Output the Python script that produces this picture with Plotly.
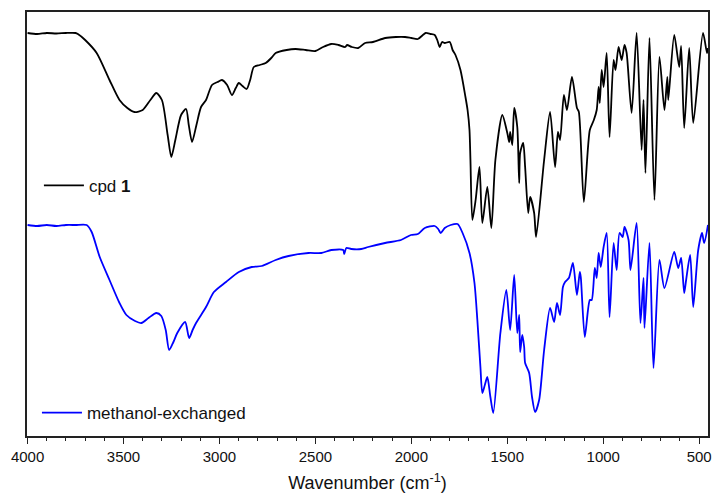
import plotly.graph_objects as go

# FT-IR spectra (transmittance, arbitrary units) vs. wavenumber in cm^-1
cpd1_wn = [4000, 3950, 3900, 3850, 3800, 3750, 3738, 3700, 3640, 3573, 3521, 3480, 3443,
           3400, 3360, 3329, 3300, 3270, 3251, 3230, 3200, 3174, 3160, 3143, 3120, 3096,
           3070, 3039, 3010, 2987, 2960, 2935, 2915, 2899, 2880, 2858, 2840, 2821, 2790,
           2759, 2730, 2707, 2650, 2604, 2550, 2500, 2460, 2417, 2380, 2345, 2335, 2310,
           2277, 2241, 2200, 2136, 2080, 2033, 2000, 1966, 1940, 1925, 1900, 1878, 1865,
           1852, 1840, 1826, 1800, 1785, 1770, 1744, 1718, 1707, 1697, 1692, 1682, 1665,
           1645, 1630, 1604, 1583, 1562, 1526, 1500, 1490, 1485, 1474, 1464, 1448, 1438,
           1433, 1417, 1407, 1391, 1381, 1360, 1350, 1308, 1277, 1251, 1236, 1225, 1205,
           1189, 1163, 1137, 1127, 1101, 1070, 1049, 1034, 1024, 1018, 1008, 998, 982,
           967, 946, 936, 920, 904, 889, 878, 852, 826, 800, 790, 780, 759, 733, 707,
           681, 666, 661, 630, 604, 594, 578, 552, 531, 480, 459, 454]
cpd1_t = [403, 402, 403, 402.5, 403, 403, 402, 396, 383, 356, 336, 328, 324,
          326, 336, 343, 336, 301, 279, 296, 321, 327, 311, 294, 311, 329,
          336, 351, 354, 356, 351, 341, 348, 353, 350, 347, 356, 369, 371,
          373, 378, 383, 386, 387, 386, 385, 389, 392, 391, 389, 391, 389,
          388, 393, 394, 398, 399, 399, 398, 397, 401, 403, 402, 401, 396,
          389, 394, 393, 394, 386, 381, 366, 339, 326, 306, 276, 216, 236,
          269, 213, 249, 208, 276, 321, 303, 294, 304, 291, 328, 309, 253,
          283, 293, 269, 223, 239, 223, 199, 276, 324, 269, 304, 296, 341,
          326, 359, 328, 324, 234, 306, 316, 326, 349, 333, 366, 349, 383,
          299, 376, 366, 389, 376, 391, 383, 323, 403, 286, 336, 263, 398, 236, 379,
          326, 359, 336, 401, 369, 390, 308, 388, 313, 403, 383, 388]

meoh_wn = [4000, 3950, 3900, 3850, 3800, 3750, 3692, 3666, 3624, 3573, 3521, 3485, 3440,
           3407, 3370, 3329, 3303, 3280, 3262, 3240, 3220, 3179, 3158, 3140, 3122, 3070,
           3029, 2966, 2899, 2832, 2780, 2707, 2640, 2536, 2469, 2417, 2355, 2350, 2339,
           2313, 2261, 2225, 2137, 2054, 2002, 1966, 1930, 1878, 1860, 1847, 1826, 1795,
           1759, 1733, 1697, 1671, 1656, 1640, 1630, 1617, 1604, 1588, 1573, 1536, 1505,
           1485, 1464, 1448, 1438, 1433, 1422, 1412, 1407, 1386, 1371, 1355, 1334, 1308,
           1277, 1256, 1241, 1225, 1210, 1199, 1179, 1158, 1137, 1122, 1117, 1096, 1070,
           1060, 1044, 1034, 1024, 1013, 998, 982, 967, 946, 930, 915, 899, 889, 868,
           858, 826, 806, 790, 785, 759, 738, 707, 681, 630, 609, 594, 578, 568, 547,
           531, 505, 485, 474, 454]
meoh_t = [211, 210, 211, 210, 211, 211, 211, 204, 179, 156, 133, 121, 115,
          113, 118, 123, 120, 106, 86, 94, 103, 114, 98, 106, 113, 129,
          144, 154, 164, 169, 170, 176, 180, 183, 183, 186, 186, 182, 188,
          187, 187, 189, 193, 196, 201, 202, 208, 210, 207, 203, 208, 211,
          212, 203, 183, 153, 116, 69, 43, 51, 59, 39, 23, 103, 146,
          106, 161, 103, 121, 84, 101, 89, 73, 63, 39, 24, 36, 86,
          128, 114, 133, 121, 149, 154, 158, 173, 141, 164, 159, 99, 136,
          136, 168, 158, 183, 169, 189, 203, 119, 193, 166, 203, 199, 209, 196,
          166, 213, 113, 158, 108, 193, 68, 176, 148, 184, 168, 178, 143, 156, 181,
          129, 186, 203, 193, 211]

x_ticks = [4000, 3500, 3000, 2500, 2000, 1500, 1000, 500]
x_ticklabels = [str(v) for v in x_ticks]

FONT = "Arial, 'Liberation Sans', sans-serif"

fig = go.Figure()
fig.add_trace(go.Scatter(x=cpd1_wn, y=cpd1_t, mode="lines", name="cpd <b>1</b>",
                         line=dict(color="#000000", width=1.8, shape="spline", smoothing=0.7),
                         legend="legend", showlegend=True))
fig.add_trace(go.Scatter(x=meoh_wn, y=meoh_t, mode="lines", name="methanol-exchanged",
                         line=dict(color="#0000ff", width=1.8, shape="spline", smoothing=0.7),
                         legend="legend2", showlegend=True))

legend_style = dict(font=dict(family=FONT, size=17, color="#111111"),
                    bgcolor="rgba(0,0,0,0)", borderwidth=0,
                    xanchor="left", yanchor="middle", itemwidth=40, visible=True)
fig.update_layout(
    width=716, height=497,
    margin=dict(l=27, r=4, t=12, b=61),
    paper_bgcolor="white", plot_bgcolor="white",
    showlegend=True,
    legend=dict(x=0.0175, y=0.59, **legend_style),
    legend2=dict(x=0.0146, y=0.054, **legend_style),
    xaxis=dict(
        range=[4003, 454], autorange=False,
        tickvals=x_ticks, ticktext=x_ticklabels,
        ticks="outside", ticklen=6, tickwidth=1.3, tickcolor="#222",
        minor=dict(dtick=100, tick0=0, ticks="outside", ticklen=3, tickwidth=1.2, tickcolor="#222"),
        showline=True, linecolor="#222", linewidth=1.5, mirror=True,
        showgrid=False, zeroline=False,
        tickfont=dict(family=FONT, size=15, color="#111"),
        title=dict(text="Wavenumber (cm<sup>-1</sup>)", standoff=13,
                   font=dict(family=FONT, size=18, color="#111")),
    ),
    yaxis=dict(
        range=[0, 424], autorange=False,
        showticklabels=False, ticks="",
        showline=True, linecolor="#222", linewidth=1.5, mirror=True,
        showgrid=False, zeroline=False,
    ),
)

fig.write_html("out.html")
